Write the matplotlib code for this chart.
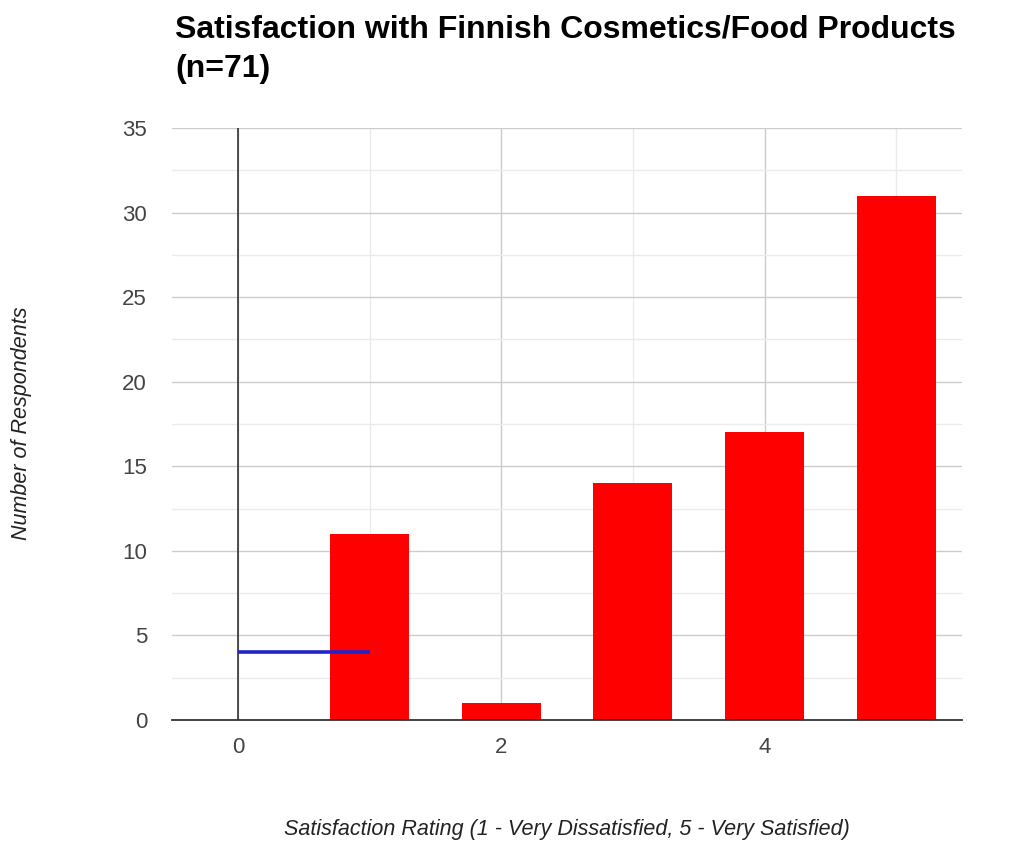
import matplotlib
matplotlib.use("Agg")
import matplotlib.pyplot as plt
from matplotlib.ticker import MultipleLocator

plt.rcParams['font.family'] = ['Liberation Sans', 'DejaVu Sans']

# Survey responses per satisfaction rating
ratings = [1, 2, 3, 4, 5]
respondents = [11, 1, 14, 17, 31]

# Reference segment drawn across the chart
line_x = [0, 1]
line_y = [4, 4]

title_lines = ["Satisfaction with Finnish Cosmetics/Food Products", "(n=71)"]
x_label = "Satisfaction Rating (1 - Very Dissatisfied, 5 - Very Satisfied)"
y_label = "Number of Respondents"

W, H = 1016, 843
fig = plt.figure(figsize=(W / 100, H / 100), dpi=100)
ax = fig.add_axes([172 / W, 1 - 720 / H, (962 - 172) / W, (720 - 128) / H])

ax.bar(ratings, respondents, width=0.6, color='#ff0000', zorder=3)
ax.plot(line_x, line_y, color='#2222cc', linewidth=2.6, zorder=4, solid_capstyle='butt')

ax.set_xlim(-0.5, 5.5)
ax.set_ylim(0, 35)

ax.xaxis.set_major_locator(MultipleLocator(2))
ax.xaxis.set_minor_locator(MultipleLocator(1))
ax.yaxis.set_major_locator(MultipleLocator(5))
ax.yaxis.set_minor_locator(MultipleLocator(2.5))

ax.grid(which='major', color='#cccccc', linewidth=1.0, zorder=0)
ax.grid(which='minor', color='#ebebeb', linewidth=1.0, zorder=0)
ax.set_axisbelow(True)

for s in ['top', 'right', 'left']:
    ax.spines[s].set_visible(False)
ax.spines['bottom'].set_color('#333333')
ax.spines['bottom'].set_linewidth(1.3)
ax.spines['bottom'].set_zorder(5)

# Baseline at x = 0
ax.axvline(0, color='#333333', linewidth=1.2, zorder=2)

ax.tick_params(axis='both', which='both', length=0, labelsize=16, labelcolor='#444444')
ax.tick_params(axis='y', pad=18)
ax.tick_params(axis='x', pad=12)

fig.text(567 / W, 1 - 830 / H, x_label, ha='center', va='center', fontsize=15.5,
         fontstyle='italic', color='#222222')
fig.text(22 / W, 1 - 423 / H, y_label, ha='center', va='center', fontsize=15.5,
         fontstyle='italic', color='#222222', rotation=90)

for line, base in zip(title_lines, [37, 77]):
    fig.text(175 / W, 1 - base / H, line, ha='left', va='baseline', fontsize=23,
             fontweight='bold', color='#000000')

fig.savefig("out.png", dpi=100, facecolor='white')
